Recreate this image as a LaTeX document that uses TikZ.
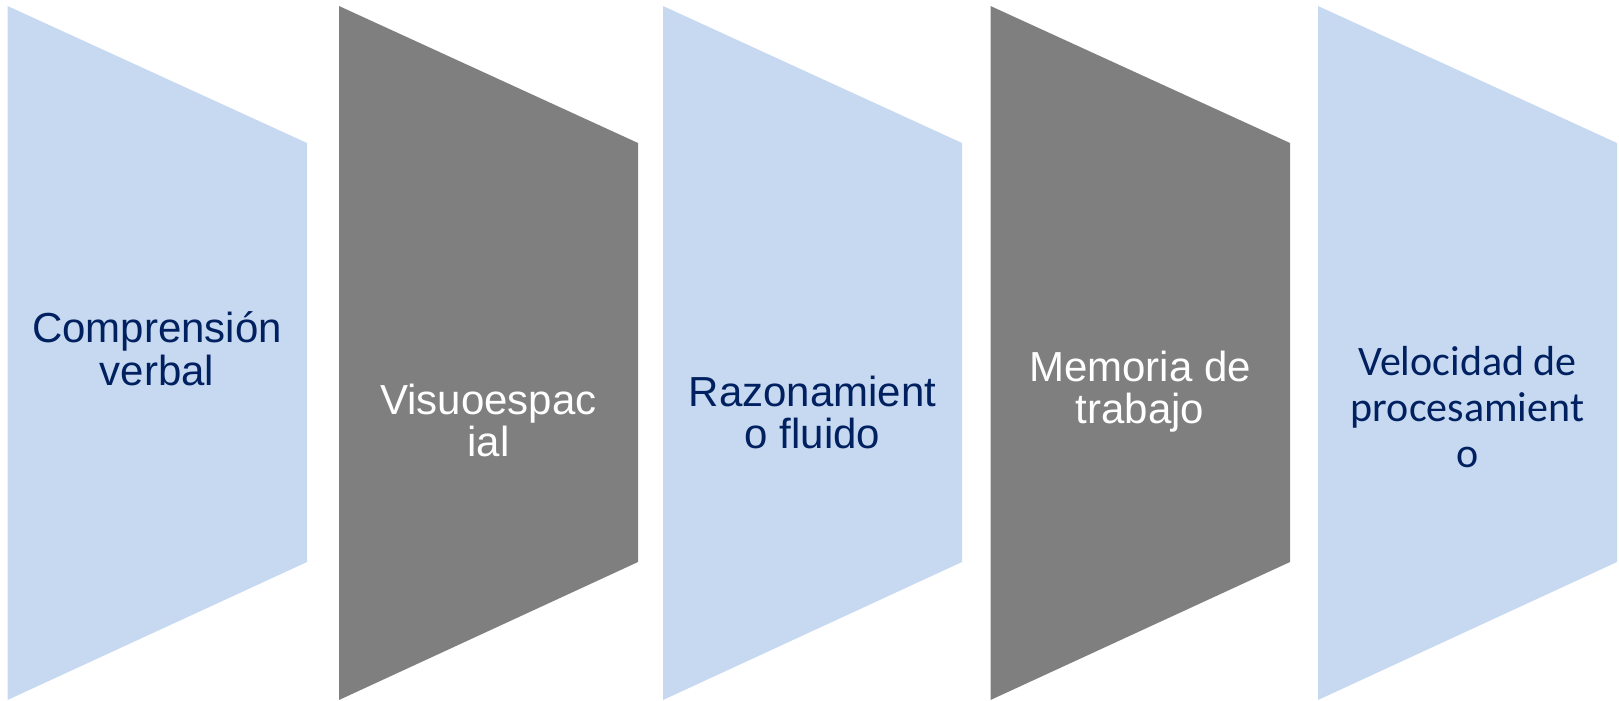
\documentclass[tikz,border=0pt]{standalone}
\usepackage{fontspec}
\setmainfont{Liberation Sans}
\newfontfamily\calibri{Carlito}
\usepackage{tikz}
\usetikzlibrary{positioning}
\definecolor{azulclaro}{HTML}{C6D9F1}
\definecolor{gris}{HTML}{7F7F7F}
\definecolor{azuloscuro}{HTML}{002060}
\tikzset{
	every node/.style={
		font=\fontsize{21}{21}\selectfont
	},
	claro/.style={
		fill=azulclaro
	},
	oscuro/.style={
		fill=gris
	},
	textoclaro/.style={
		text=azuloscuro,
		align=center,
		anchor=base,
		inner sep=0pt
	},
	textooscuro/.style={
		text=white,
		align=center,
		anchor=base,
		inner sep=0pt
	},
}

\begin{document}
\begin{tikzpicture}[x=0.5pt,y=-0.5pt]
	\useasboundingbox (0,0) rectangle (1619,701);
	
	% Bloques
	\fill[claro]  (7.5,6) -- (307,143) -- (307,562) -- (7.5,700) -- cycle;
	\fill[oscuro] (339,6) -- (638,143) -- (638,562) -- (339,700) -- cycle;
	\fill[claro]  (663,6) -- (962,143) -- (962,562) -- (663,700) -- cycle;
	\fill[oscuro] (990.5,6) -- (1290,143) -- (1290,562) -- (990.5,700) -- cycle;
	\fill[claro]  (1318,6) -- (1617,143) -- (1617,562) -- (1318,700) -- cycle;
	
	% Etiquetas (base = ultima linea)
	\node[textoclaro]  (CV) at (157,385)    {Comprensión\\verbal};
	\node[textooscuro] (VE) at (488.5,456)  {Visuoespac\\ial};
	\node[textoclaro]  (RF) at (812.5,448)  {Razonamient\\o fluido};
	\node[textooscuro] (MT) at (1140,423)   {Memoria de\\trabajo};
	\node[textoclaro, font=\calibri\fontsize{21}{23}\selectfont]
	                   (VP) at (1467.5,467) {Velocidad de\\procesamient\\o};
	
\end{tikzpicture}
\end{document}
